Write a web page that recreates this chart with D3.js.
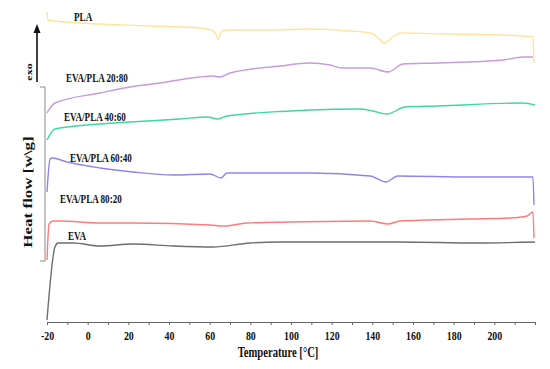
<!DOCTYPE html>
<html>
<head>
<meta charset="utf-8">
<script src="https://cdn.jsdelivr.net/npm/d3@7"></script>
<style>
body{margin:0;background:#fff;}
svg{display:block;}
text{font-family:"Liberation Serif","Times New Roman",serif;font-weight:bold;fill:#111;}
</style>
</head>
<body>
<svg></svg>
<script>
// series names (top to bottom)
var categories = ["PLA","EVA/PLA 20:80","EVA/PLA 40:60","EVA/PLA 60:40","EVA/PLA 80:20","EVA"]

// temperature [°C] and heat flow (arbitrary, stacked offsets) for each curve
var plaTemp = [-20,-19.5,-16,6,31,55,61,63,64,66,70,90,109,129,139,142,146,150,154,178,203,213,219,219.5]
var plaFlow = [31.0,30.2,30.1,29.8,29.6,29.4,29.2,28.8,28.3,29.1,29.2,29.2,29.3,29.1,28.9,28.6,27.9,28.5,28.9,28.8,28.7,28.6,28.5,25.9]

var p2080Temp = [-20,-16.1,6.1,20.8,35.6,55.2,61.1,65.1,70,94.6,109.3,119.2,125.1,138.9,147.7,155.1,171.8,204.3,214.1,219]
var p2080Flow = [20.9,21.9,22.9,23.5,23.9,24.5,24.6,24.5,24.9,25.6,25.9,25.7,25.4,25.4,25.0,25.8,25.9,26.2,26.5,26.5]

var p4060Temp = [-20,-16.1,6.1,20.8,45.4,58.7,64.1,68.5,99.5,109.3,133.9,140.3,147.2,156.1,171.8,214.1,220]
var p4060Flow = [18.2,19.3,19.8,20.0,20.3,20.5,20.3,20.6,21.1,21.2,21.3,21.1,20.8,21.5,21.6,21.9,21.7]

var p6040Temp = [-20,-18.5,-17.5,-10.2,6.1,22.3,42,60.2,65.6,68.5,109.3,138.9,146.7,152.6,188,219,219.5]
var p6040Flow = [13.0,16.3,16.4,16.0,15.4,15.0,14.7,14.8,14.4,14.9,14.9,14.6,14.0,14.6,14.5,14.5,11.7]

var p8020Temp = [-20,-19,-17,-13.6,6.1,22.3,60.2,66.6,78.4,99.5,138.9,147.7,153.6,188,207.7,216.1,219,219.5]
var p8020Flow = [6.2,9.8,10.1,10.1,9.9,9.9,9.7,9.6,9.9,10.0,10.1,9.8,10.1,10.3,10.4,10.6,11.0,8.4]

var evaTemp = [-20,-16.1,-14.6,-7.2,6.1,22.3,42,61.6,79.8,94.6,153.6,191.5,220]
var evaFlow = [0.2,7.5,7.9,7.9,7.6,7.8,7.6,7.5,7.9,8.0,8.0,7.9,8.0]

var tickLabels = [-20,0,20,40,60,80,100,120,140,160,180,200]

var colors = ["#ffe39c","#c89ade","#3fd7a0","#9183ef","#ff7b7b","#6e6e6e"]

var squish = 0.76

var drawCurves = function(target,xScale,yScale)
{
    var series = [
        {name:categories[0],temp:plaTemp,flow:plaFlow},
        {name:categories[1],temp:p2080Temp,flow:p2080Flow},
        {name:categories[2],temp:p4060Temp,flow:p4060Flow},
        {name:categories[3],temp:p6040Temp,flow:p6040Flow},
        {name:categories[4],temp:p8020Temp,flow:p8020Flow},
        {name:categories[5],temp:evaTemp,flow:evaFlow}
    ]
    var line = d3.line()
        .x(function(d){return xScale(d[0])})
        .y(function(d){return yScale(d[1])})
        .curve(d3.curveMonotoneX)

    target.selectAll("path.curve")
        .data(series)
        .enter()
        .append("path")
        .classed("curve",true)
        .attr("d",function(s){
            return line(s.temp.map(function(t,i){return [t,s.flow[i]]}))
        })
        .attr("fill","none")
        .attr("stroke",function(s,i){return colors[i]})
        .attr("stroke-width",1.4)
}

var drawAxes = function(xScale,yScale)
{
    var svg = d3.select("svg")
    var xAxis = d3.axisBottom(xScale)
        .tickValues(d3.range(-20,221,10))
        .tickFormat(function(d){return tickLabels.indexOf(d)>=0 ? d : ""})
        .tickSize(3)
        .tickSizeOuter(0)

    var ax = svg.append("g")
        .attr("transform","translate(0,"+yScale(0)+")")
        .call(xAxis)
    ax.select(".domain").attr("stroke","#666")
    ax.selectAll(".tick line").attr("stroke","#666")
    ax.selectAll(".tick text")
        .attr("font-family","Liberation Serif, serif")
        .attr("font-weight","bold")
        .attr("font-size",13)
        .attr("fill","#111")
        .attr("y",8.5)
        .attr("transform","scale("+squish+",1)")

    // bracket on the left
    svg.append("path")
        .attr("d","M40,87H45V261H40")
        .attr("fill","none")
        .attr("stroke","#888")
        .attr("stroke-width",1)

    // exo arrow
    svg.append("line")
        .attr("x1",37).attr("y1",82)
        .attr("x2",37).attr("y2",31)
        .attr("stroke","#111")
        .attr("stroke-width",1.6)
    svg.append("path")
        .attr("d","M37,24L40.5,33L33.5,33Z")
        .attr("fill","#111")
}

var drawLabels = function()
{
    var svg = d3.select("svg")
    var labels = svg.append("g").classed("labels",true)

    var seriesPos = [[74,21],[66,82],[64,121],[70,162],[60,203],[68,240]]
    labels.selectAll("g.series")
        .data(categories)
        .enter()
        .append("g")
        .classed("series",true)
        .attr("transform",function(d,i){
            return "translate("+seriesPos[i][0]+","+seriesPos[i][1]+") scale("+squish+",1)"
        })
        .append("text")
        .text(function(d){return d})
        .attr("font-size",12)

    labels.append("g")
        .attr("transform","translate(278,357) scale("+squish+",1)")
        .append("text")
        .text("Temperature [°C]")
        .attr("text-anchor","middle")
        .attr("font-size",14)

    labels.append("g")
        .attr("transform","translate(31.5,192) scale("+squish+",1) rotate(-90)")
        .append("text")
        .text("Heat flow [w\\g]")
        .attr("text-anchor","middle")
        .attr("font-size",17)

    labels.append("g")
        .attr("transform","translate(32,72) scale("+squish+",1) rotate(-90)")
        .append("text")
        .text("exo")
        .attr("text-anchor","middle")
        .attr("font-size",12)
}

var initGraph = function()
{
    var screen = {width:550,height:369}
    d3.select("svg")
        .attr("width",screen.width)
        .attr("height",screen.height)

    var xScale = d3.scaleLinear()
        .domain([-20,220])
        .range([47,535])
    var yScale = d3.scaleLinear()
        .domain([0,32.2])
        .range([322,0])

    var target = d3.select("svg").append("g").attr("id","graph")
    drawCurves(target,xScale,yScale)
    drawAxes(xScale,yScale)
    drawLabels()
}

initGraph()
</script>
</body>
</html>
